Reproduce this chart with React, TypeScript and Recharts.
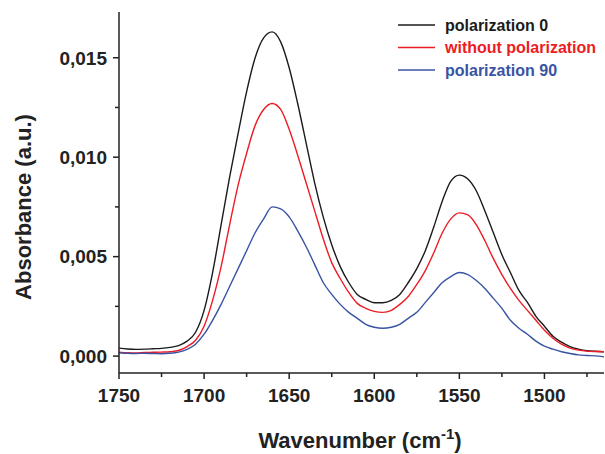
import React from 'react';
import { LineChart, Line, XAxis, YAxis, Legend, Label } from 'recharts';

const wavenumbers = [
  1750, 1745, 1740, 1735, 1730, 1725, 1720, 1715, 1710, 1705,
  1700, 1695, 1690, 1685, 1680, 1675, 1670, 1665, 1660, 1655,
  1650, 1645, 1640, 1635, 1630, 1625, 1620, 1615, 1610, 1605,
  1600, 1595, 1590, 1585, 1580, 1575, 1570, 1565, 1560, 1555,
  1550, 1545, 1540, 1535, 1530, 1525, 1520, 1515, 1510, 1505,
  1500, 1495, 1490, 1485, 1480, 1475, 1470, 1465,
];

const polarization0 = [
  0.0004, 0.00036, 0.00034, 0.00035, 0.00037, 0.00039, 0.00044, 0.00053, 0.00075, 0.0012,
  0.0023, 0.0042, 0.0066, 0.009, 0.0112, 0.0133, 0.015, 0.016, 0.0163, 0.0158,
  0.0145, 0.0127, 0.0107, 0.0087, 0.007, 0.0056, 0.0045, 0.0037, 0.0031, 0.00285,
  0.00268, 0.00268, 0.0028, 0.0031, 0.0037, 0.0044, 0.0053, 0.0065, 0.0078, 0.0088,
  0.0091, 0.0089, 0.0083, 0.0073, 0.0062, 0.0051, 0.0042, 0.0033, 0.0027, 0.002,
  0.0015, 0.001, 0.0007, 0.00048, 0.00035, 0.00027, 0.00024, 0.00022,
];

const withoutPolarization = [
  0.0002, 0.00017, 0.00016, 0.00018, 0.00019, 0.0002, 0.00022, 0.00028, 0.00048, 0.0008,
  0.0015, 0.0028, 0.0045, 0.0066, 0.0086, 0.0102, 0.0116, 0.0124, 0.0127, 0.0124,
  0.0114, 0.0101, 0.0087, 0.0073, 0.0059, 0.0047, 0.0039, 0.0032, 0.00265, 0.0024,
  0.00225, 0.0022, 0.0023, 0.0026, 0.003, 0.0036, 0.0043, 0.0052, 0.0062, 0.0069,
  0.0072, 0.0071, 0.0066, 0.0058, 0.0049, 0.0041, 0.0034, 0.0028, 0.0023, 0.0018,
  0.0013, 0.0009, 0.0006, 0.0004, 0.0003, 0.00025, 0.00023, 0.00022,
];

const polarization90 = [
  0.00017, 0.00014, 0.00013, 0.00014, 0.00013, 0.00012, 0.00014, 0.0002, 0.00034, 0.0006,
  0.0011, 0.0018, 0.0026, 0.0035, 0.0044, 0.0053, 0.0062, 0.0069, 0.0075, 0.0074,
  0.007, 0.0063, 0.0055, 0.0046, 0.0037, 0.0031, 0.0026, 0.0022, 0.0019, 0.0016,
  0.00145, 0.0014, 0.00145, 0.0016, 0.0019, 0.0022, 0.0027, 0.0032, 0.0037, 0.004,
  0.0042, 0.0041, 0.0038, 0.0034, 0.0029, 0.0024, 0.0018, 0.0014, 0.0011, 0.00075,
  0.0005, 0.00035, 0.00022, 0.00013, 0.00006, 0.00003, 0.00001, -0.00004,
];

const xTicks = [1750, 1725, 1700, 1675, 1650, 1625, 1600, 1575, 1550, 1525, 1500, 1475];
const xMajor = [1750, 1700, 1650, 1600, 1550, 1500];
const yTicks = [0, 0.0025, 0.005, 0.0075, 0.01, 0.0125, 0.015];
const yMajor = [0, 0.005, 0.01, 0.015];

const seriesNames = ['polarization 0', 'without polarization', 'polarization 90'];
const seriesColors = ['#1b1b1b', '#ed1c24', '#3953a4'];

const data = wavenumbers.map((w, i) => ({
  w,
  p0: polarization0[i],
  np: withoutPolarization[i],
  p90: polarization90[i],
}));

const FONT = '"Liberation Sans", Arial, sans-serif';
const AXIS_COLOR = '#222';

const isMajorY = (v: number) => yMajor.some((m) => Math.abs(m - v) < 1e-9);

const YTick = (props: any) => {
  const { x, y, payload } = props;
  const major = isMajorY(payload.value);
  return (
    <g>
      <line x1={x} x2={x - (major ? 6 : 4)} y1={y} y2={y} stroke={AXIS_COLOR} strokeWidth={1.5} />
      {major && (
        <text x={x - 12} y={y} dy="0.36em" textAnchor="end" fontFamily={FONT} fontWeight="bold" fontSize={19} fill={AXIS_COLOR}>
          {payload.value.toFixed(3).replace('.', ',')}
        </text>
      )}
    </g>
  );
};

const XTick = (props: any) => {
  const { x, y, payload } = props;
  const major = xMajor.includes(payload.value);
  return (
    <g>
      <line x1={x} x2={x} y1={y} y2={y + (major ? 6 : 4)} stroke={AXIS_COLOR} strokeWidth={1.5} />
      {major && (
        <text x={x} y={y + 29} textAnchor="middle" fontFamily={FONT} fontWeight="bold" fontSize={19} fill={AXIS_COLOR}>
          {payload.value}
        </text>
      )}
    </g>
  );
};

const LegendContent = () => (
  <svg width={207} height={70} style={{ display: 'block' }}>
    {seriesNames.map((name, i) => {
      const cy = 11 + i * 22.5;
      return (
        <g key={name}>
          <line x1={0} x2={37} y1={cy} y2={cy} stroke={seriesColors[i]} strokeWidth={1.4} />
          <text x={47} y={cy} dy="0.36em" fontFamily={FONT} fontWeight="bold" fontSize={16} fill={seriesColors[i]}>
            {name}
          </text>
        </g>
      );
    })}
  </svg>
);

const XTitle = () => (
  <text x={360} y={448} textAnchor="middle" fontFamily={FONT} fontWeight="bold" fontSize={22} fill={AXIS_COLOR}>
    Wavenumber (cm
    <tspan dy={-9} fontSize={15}>-1</tspan>
    <tspan dy={9}>)</tspan>
  </text>
);

const YTitle = () => (
  <text
    x={31}
    y={207}
    transform="rotate(-90, 31, 207)"
    textAnchor="middle"
    fontFamily={FONT}
    fontWeight="bold"
    fontSize={22}
    fill={AXIS_COLOR}
  >
    Absorbance (a.u.)
  </text>
);

export default function App() {
  return (
    <div style={{ position: 'absolute', left: 0, top: 0, width: 605, height: 454, background: '#fff' }}>
      <LineChart width={605} height={454} data={data} margin={{ top: 12, right: 1, left: 0, bottom: 0 }}>
        <XAxis
          dataKey="w"
          type="number"
          domain={[1465, 1750]}
          reversed
          ticks={xTicks}
          interval={0}
          height={81}
          tickSize={0}
          tickMargin={0}
          tickLine={false}
          tick={<XTick />}
          axisLine={{ stroke: AXIS_COLOR, strokeWidth: 1.5 }}
          allowDataOverflow
        >
          <Label content={<XTitle />} />
        </XAxis>
        <YAxis
          type="number"
          domain={[-0.00085, 0.0173]}
          ticks={yTicks}
          interval={0}
          width={119}
          tickSize={0}
          tickMargin={0}
          tickLine={false}
          tick={<YTick />}
          axisLine={{ stroke: AXIS_COLOR, strokeWidth: 1.5 }}
          allowDataOverflow
        >
          <Label content={<YTitle />} />
        </YAxis>
        <Legend
          layout="horizontal"
          verticalAlign="middle"
          align="center"
          content={<LegendContent />}
          wrapperStyle={{ left: 398, top: 14, width: 207, height: 70 }}
        />
        <Line dataKey="p0" type="monotone" stroke={seriesColors[0]} strokeWidth={1.4} dot={false} isAnimationActive={false} />
        <Line dataKey="np" type="monotone" stroke={seriesColors[1]} strokeWidth={1.4} dot={false} isAnimationActive={false} />
        <Line dataKey="p90" type="monotone" stroke={seriesColors[2]} strokeWidth={1.4} dot={false} isAnimationActive={false} />
      </LineChart>
    </div>
  );
}
